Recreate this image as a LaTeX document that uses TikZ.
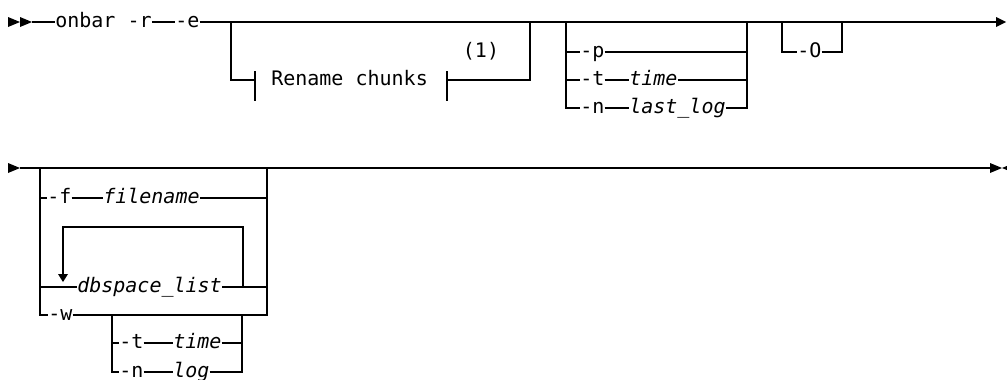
\documentclass[tikz,border=0pt]{standalone}
\usepackage{fontspec}
\newfontfamily\railmono{DejaVu Sans Mono}
\newcommand\railfont{\railmono\fontsize{15pt}{17pt}\selectfont}
\begin{document}
\railfont
\begin{tikzpicture}[x=0.75pt,y=-0.75pt,
  lbl/.style={font=\railfont, inner sep=0pt, anchor=mid west},
  var/.style={font=\railfont\itshape, inner sep=0pt, anchor=mid west},
  rail/.style={line width=0.85pt, line cap=butt},
  tipfill/.style={fill=black}]
\useasboundingbox (0,0) rectangle (1007,379);
% ---------- row 1 ----------
\fill[tipfill] (8,17) -- (20,22) -- (8,27) -- cycle;
\fill[tipfill] (20,17) -- (32,22) -- (20,27) -- cycle;
\coordinate (s1) at (32,22);
\node[lbl] (onbar) at (55,22) {onbar -r};
\node[lbl] (e) at (175,22) {-e};
\coordinate (end1) at (997,22);
\draw[rail] (s1) -- (onbar.mid west);
\draw[rail] (onbar.mid east) -- (e.mid west);
\draw[rail] (e.mid east) -- (end1);
\fill[tipfill] (996,17) -- (1006,22) -- (996,27) -- cycle;
% Rename chunks fragment
\coordinate (rj1) at (231,22);
\coordinate (rj2) at (530,22);
\node[lbl] (rename) at (271,80) {Rename chunks};
\node[font=\railfont, inner sep=0pt] (note) at (481,51) {(1)};
\draw[rail] (rj1) |- (255,80);
\draw[rail] (255,71) -- (255,101);
\draw[rail] (447,71) -- (447,101);
\draw[rail] (447,80) -| (rj2);
% -p / -t time / -n last_log
\coordinate (bj1) at (566,22);
\coordinate (bj2) at (747,22);
\node[lbl] (p) at (580,52) {-p};
\node[lbl] (t) at (580,80) {-t};
\node[var] (time) at (629,80) {time};
\node[lbl] (n) at (580,108) {-n};
\node[var] (lastlog) at (629,108) {last\_log};
\draw[rail] (bj1) |- (n.mid west);
\draw[rail] (bj1 |- p.mid west) -- (p.mid west);
\draw[rail] (bj1 |- t.mid west) -- (t.mid west);
\draw[rail] (t.mid east) -- (time.mid west);
\draw[rail] (n.mid east) -- (lastlog.mid west);
\draw[rail] (p.mid east) -| (bj2);
\draw[rail] (time.mid east) -- (bj2 |- time.mid east);
\draw[rail] (lastlog.mid east) -| (bj2);
% -O
\coordinate (oj1) at (782,22);
\coordinate (oj2) at (842,22);
\node[lbl] (O) at (797,52) {-O};
\draw[rail] (oj1) |- (O.mid west);
\draw[rail] (O.mid east) -| (oj2);
% ---------- row 2 ----------
\fill[tipfill] (8,163) -- (20,168) -- (8,173) -- cycle;
\coordinate (s2) at (20,168);
\coordinate (end2) at (991,168);
\draw[rail] (s2) -- (end2);
\fill[tipfill] (990,163) -- (1002,168) -- (990,173) -- cycle;
\fill[tipfill] (1014,163) -- (1002,168) -- (1014,173) -- cycle;
\coordinate (cj1) at (40,168);
\coordinate (cj2) at (267,168);
\node[lbl] (f) at (47,198) {-f};
\node[var] (filename) at (103,198) {filename};
\node[var] (db) at (77,287) {dbspace\_list};
\node[lbl] (w) at (48,315) {-w};
\draw[rail] (cj1) |- (w.mid west);
\draw[rail] (cj1 |- f.mid west) -- (f.mid west);
\draw[rail] (f.mid east) -- (filename.mid west);
\draw[rail] (filename.mid east) -- (cj2 |- filename.mid east);
\draw[rail] (cj1 |- db.mid west) -- (db.mid west);
\draw[rail] (db.mid east) -- (cj2 |- db.mid east);
\draw[rail] (w.mid east) -| (cj2);
% repeat loop
\coordinate (lp1) at (243,287);
\coordinate (lp2) at (63,274);
\draw[rail] (lp1) -- (243,227) -| (lp2);
\fill[tipfill] (58,274) -- (68,274) -- (63,282) -- cycle;
% -w sub-options
\coordinate (wj1) at (112,315);
\coordinate (wj2) at (242,315);
\node[lbl] (t2) at (119,343) {-t};
\node[var] (time2) at (173,343) {time};
\node[lbl] (n2) at (119,372) {-n};
\node[var] (log) at (173,372) {log};
\draw[rail] (wj1) |- (n2.mid west);
\draw[rail] (wj1 |- t2.mid west) -- (t2.mid west);
\draw[rail] (t2.mid east) -- (time2.mid west);
\draw[rail] (n2.mid east) -- (log.mid west);
\draw[rail] (time2.mid east) -- (wj2 |- time2.mid east);
\draw[rail] (log.mid east) -| (wj2);
\end{tikzpicture}
\end{document}
